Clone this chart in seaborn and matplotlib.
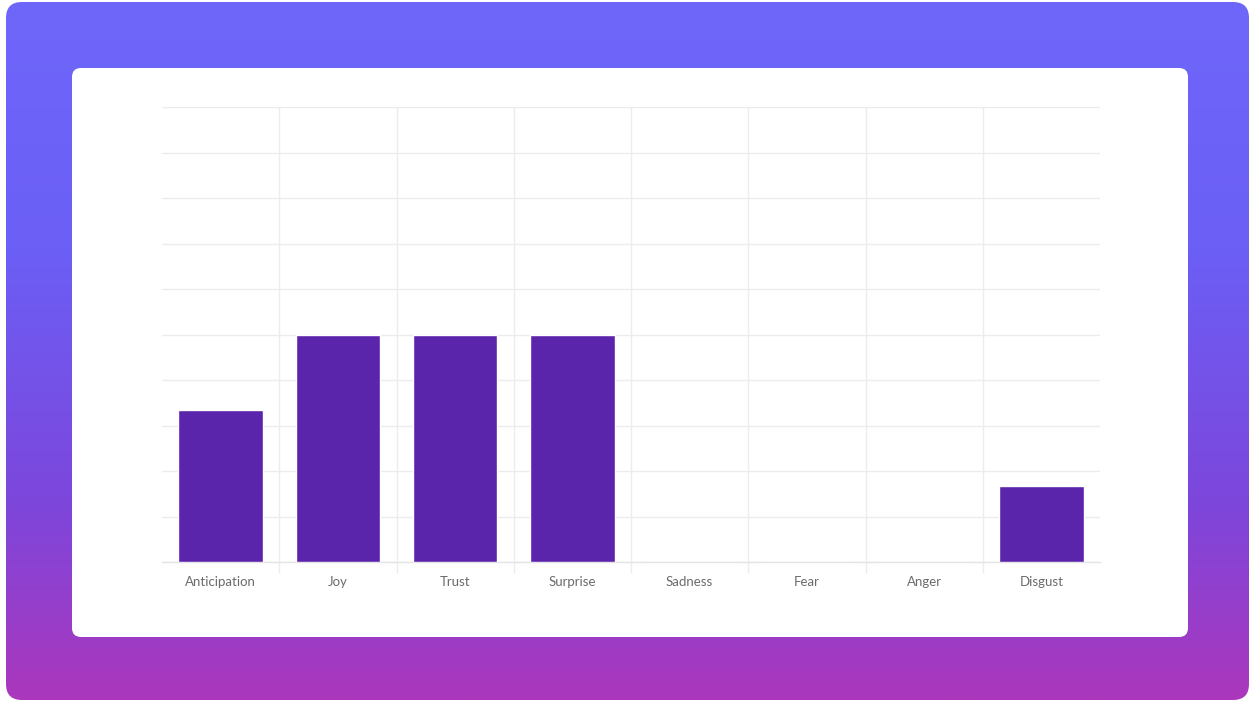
import matplotlib
matplotlib.use("Agg")
import matplotlib.pyplot as plt
from matplotlib.patches import FancyBboxPatch
import numpy as np
import pandas as pd
import seaborn as sns

# data
emotions = ["Anticipation", "Joy", "Trust", "Surprise", "Sadness", "Fear", "Anger", "Disgust"]
counts = [10, 15, 15, 15, 0, 0, 0, 5]
y_max = 30

df = pd.DataFrame({"emotion": emotions, "count": counts})

sns.set_theme(style="white")
plt.rcParams["font.family"] = ["Lato", "DejaVu Sans"]

W, H = 1255, 702
fig = plt.figure(figsize=(W / 100, H / 100), dpi=100)

# background: gradient frame + white card
bg = fig.add_axes([0, 0, 1, 1])
bg.set_xlim(0, W)
bg.set_ylim(H, 0)
bg.axis("off")

stops = [0.0, 0.35, 0.72, 1.0]
stop_cols = np.array([[0x6f, 0x66, 0xfa],
                      [0x6b, 0x5f, 0xf6],
                      [0x7d, 0x46, 0xdb],
                      [0xab, 0x37, 0xbc]]) / 255
t = np.linspace(0, 1, 300)
grad = np.stack([np.interp(t, stops, stop_cols[:, c]) for c in range(3)], axis=1)
grad = np.repeat(grad[:, None, :], 2, axis=1)
frame = FancyBboxPatch((6, 2), W - 12, H - 4, boxstyle="round,pad=0,rounding_size=16",
                       facecolor="none", edgecolor="none")
bg.add_patch(frame)
im = bg.imshow(grad, extent=(6, W - 6, H - 2, 2), aspect="auto", zorder=1)
im.set_clip_path(frame)

card = FancyBboxPatch((72, 68), 1116, 569, boxstyle="round,pad=0,rounding_size=9",
                      facecolor="white", edgecolor="none", zorder=2)
bg.add_patch(card)

# chart
ax = fig.add_axes([162 / W, (H - 562) / H, 938 / W, 455 / H])
ax.patch.set_alpha(0)
sns.barplot(data=df, x="emotion", y="count", color="#5b25ab", saturation=1,
            width=0.72, ax=ax, zorder=3)

ax.set_xlim(-0.5, len(emotions) - 0.5)
ax.set_ylim(0, y_max)
ax.set_yticks(np.linspace(0, y_max, 11))
ax.set_yticklabels([])
ax.tick_params(axis="y", length=0)
ax.grid(axis="y", color="#ececec", linewidth=1, zorder=0)
ax.set_axisbelow(True)

below = -y_max * 11 / 455
ax.vlines(np.arange(len(emotions) - 1) + 0.5, below, y_max, color="#ececec",
          linewidth=1, clip_on=False, zorder=0)

for s in ["top", "left", "right"]:
    ax.spines[s].set_visible(False)
ax.spines["bottom"].set_color("#e4e4e4")
ax.spines["bottom"].set_linewidth(1)

ax.set_xlabel("")
ax.set_ylabel("")
ax.tick_params(axis="x", length=0, pad=10, labelsize=9.5, labelcolor="#6b6b6b")

fig.savefig("out.png", dpi=100)
